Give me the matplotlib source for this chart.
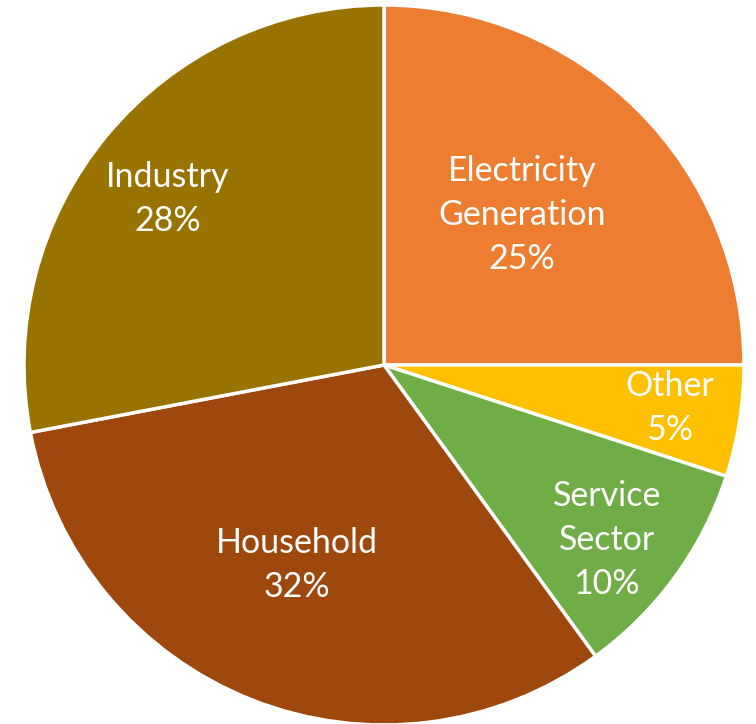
import matplotlib
matplotlib.use("Agg")
import matplotlib.pyplot as plt
import numpy as np

categories = ["Electricity\nGeneration", "Other", "Service\nSector", "Household", "Industry"]
values = [25, 5, 10, 32, 28]
colors = ["#ED7D31", "#FFC000", "#70AD47", "#9E480E", "#997300"]
label_dist = [0.566, 0.803, 0.787, 0.606, 0.757]
label_ang_offset = [2.4, 0.45, -2.1, -1.9, 2.0]

fig = plt.figure(figsize=(7.56, 7.24), dpi=100)
ax = fig.add_axes([24/756, (724-365-360)/724, 720/756, 720/724])
wedges, _ = ax.pie(values, colors=colors, startangle=90, counterclock=False,
                   wedgeprops=dict(edgecolor="white", linewidth=2.5))
ax.set_xlim(-1, 1)
ax.set_ylim(-1, 1)
ax.set_aspect("equal")
ax.axis("off")

for w, cat, v, d, off in zip(wedges, categories, values, label_dist, label_ang_offset):
    ang = np.deg2rad((w.theta1 + w.theta2) / 2 + off)
    ax.text(d*np.cos(ang), d*np.sin(ang), f"{cat}\n{v}%", ha="center", va="center",
            color="white", fontsize=24.5, family=["Lato", "DejaVu Sans"], linespacing=1.45)

fig.savefig("out.png", dpi=100)
